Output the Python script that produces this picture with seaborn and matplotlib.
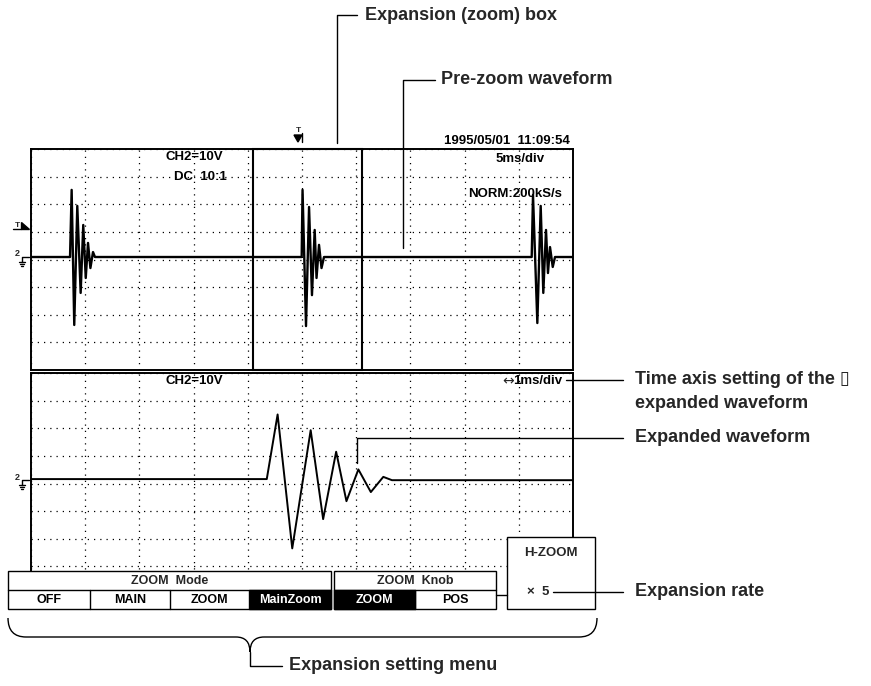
import numpy as np
import pandas as pd
import matplotlib
matplotlib.use('Agg')
import matplotlib.pyplot as plt
from matplotlib.patches import Rectangle, Polygon, PathPatch
from matplotlib.path import Path
import seaborn as sns

sns.set_style('white')
plt.rcParams['font.family'] = ['Liberation Sans', 'DejaVu Sans']

# main (pre-zoom) trace: 5 ms/div, 10 V/div
main_t = [0, 3.60, 3.75, 3.99, 4.27, 4.58, 4.82, 5.05, 5.26, 5.48, 5.72, 5.90,
          24.97, 25.05, 25.37, 25.65, 25.92, 26.17, 26.34, 26.57, 26.80, 27.03,
          46.19, 46.31, 46.71, 47.02, 47.26, 47.51, 47.69, 47.88, 48.13, 48.34, 50]
main_v = [0.9, 0.9, 25.2, -23.7, 19.4, -12.1, 12.5, -6.7, 6.0, -3.1, 2.7, 0.9,
          0.9, 25.2, -24.1, 19.0, -12.9, 10.7, -6.7, 5.3, -3.1, 0.9,
          0.9, 23.4, -23.0, 19.4, -12.1, 10.7, -4.9, 4.5, -2.7, 0.9, 0.9]

# zoom window and expanded trace: 1 ms/div
zoom_start = 20.5
zoom_span = 10
zoom_t = [20.5, 24.85, 25.05, 25.32, 25.66, 25.89, 26.13, 26.32, 26.54, 26.77, 27.00, 27.16, 30.5]
zoom_v = [1.6, 1.6, 25.0, -23.5, 19.3, -12.9, 11.5, -6.4, 5.1, -3.1, 2.4, 1.2, 1.2]

trig_level = 12.1

mode_buttons = ['OFF', 'MAIN', 'ZOOM', 'MainZoom']
knob_buttons = ['ZOOM', 'POS']
mode_sel = 'MainZoom'
knob_sel = 'ZOOM'
zoom_rate = '×  5'

W, H = 871, 686
fig = plt.figure(figsize=(W / 100, H / 100), dpi=100)
fig.patch.set_facecolor('white')


def panel(x0, y0, w, h):
    return fig.add_axes([x0 / W, 1 - (y0 + h) / H, w / W, h / H])


top = panel(31, 149, 542, 221)
low = panel(31, 373, 542, 221)

df_main = pd.DataFrame({'t': main_t, 'v': main_v})
df_zoom = pd.DataFrame({'t': zoom_t, 'v': zoom_v})

for ax, xmax, x0 in [(top, 50, 0), (low, zoom_span, zoom_start)]:
    ax.set_xlim(x0, x0 + xmax)
    ax.set_ylim(-40, 40)
    ax.set_xticks(np.linspace(x0, x0 + xmax, 11))
    ax.set_yticks(np.arange(-40, 41, 10))
    ax.grid(True, color='black', linestyle=(0, (1, 4)), linewidth=0.9)
    ax.tick_params(length=0, labelbottom=False, labelleft=False)
    for s in ax.spines.values():
        s.set_color('black')
        s.set_linewidth(1.4)

sns.lineplot(data=df_main, x='t', y='v', ax=top, color='black', linewidth=1.7,
             sort=False, estimator=None)
sns.lineplot(data=df_zoom, x='t', y='v', ax=low, color='black', linewidth=1.4,
             sort=False, estimator=None)
for ax in (top, low):
    ax.set_xlabel('')
    ax.set_ylabel('')

# expansion box on the main trace
top.add_patch(Rectangle((zoom_start, -40), zoom_span, 80, fill=False,
                        edgecolor='black', linewidth=1.5, clip_on=False, zorder=5))

# overlay in pixel units for labels, menu and leaders
ov = fig.add_axes([0, 0, 1, 1], zorder=10)
ov.set_xlim(0, W)
ov.set_ylim(H, 0)
ov.axis('off')
ov.patch.set_alpha(0)

scr = dict(fontsize=9.5, fontweight='bold', color='black', va='center')
ov.text(570, 141, '1995/05/01  11:09:54', ha='right', **scr)
ov.text(165, 157, 'CH2=10V', ha='left', **scr)
ov.text(174, 177, 'DC  10:1', ha='left', **scr)
ov.text(545, 159, '5ms/div', ha='right', **scr)
ov.text(562, 194, 'NORM:200kS/s', ha='right', **scr)
ov.text(165, 381, 'CH2=10V', ha='left', **scr)
ov.text(562, 381, '1ms/div', ha='right', **scr)
ov.text(514, 381, '↔', ha='right', fontsize=10, family='DejaVu Sans', va='center')

# trigger position mark
ov.text(298, 131, 'T', ha='center', va='center', fontsize=6, fontweight='bold')
ov.add_patch(Polygon([(294, 135), (302, 135), (298, 142)], closed=True, color='black'))
ov.plot([302, 302], [133, 142], color='black', lw=1)

# trigger level mark
trig_y = 259.5 - trig_level * 2.76
ov.text(17, trig_y - 1, 'T', ha='center', va='center', fontsize=6, fontweight='bold')
ov.plot([13, 21], [trig_y + 3, trig_y + 3], color='black', lw=1)
ov.add_patch(Polygon([(21, trig_y - 4), (21, trig_y + 3), (29, trig_y + 3)], closed=True, color='black'))


def ground(y):
    ov.text(17, y - 3, '2', ha='center', va='center', fontsize=6.5, fontweight='bold')
    ov.plot([29, 22, 22], [y, y, y + 5], color='black', lw=1)
    ov.plot([19, 25], [y + 5, y + 5], color='black', lw=1)
    ov.plot([20, 24], [y + 7, y + 7], color='black', lw=1)
    ov.plot([21, 23], [y + 9, y + 9], color='black', lw=1)


ground(257)
ground(480)

# menu
ov.add_patch(Rectangle((8, 571), 589, 40, facecolor='white', edgecolor='none', zorder=1))


def block(edges, header, labels, sel):
    x0, x1 = edges[0], edges[-1]
    ov.add_patch(Rectangle((x0, 571), x1 - x0, 38, facecolor='white',
                           edgecolor='black', lw=1, zorder=2))
    ov.plot([x0, x1], [590, 590], color='black', lw=1, zorder=3)
    ov.text((x0 + x1) / 2, 580.5, header, ha='center', va='center', fontsize=9,
            fontweight='bold', zorder=4)
    for i, lab in enumerate(labels):
        a, b = edges[i], edges[i + 1]
        if lab == sel:
            ov.add_patch(Rectangle((a, 590), b - a, 19, facecolor='black',
                                   edgecolor='black', lw=1, zorder=3))
        elif i > 0:
            ov.plot([a, a], [590, 609], color='black', lw=1, zorder=3)
        ov.text((a + b) / 2, 600, lab, ha='center', va='center', fontsize=9,
                fontweight='bold', color='white' if lab == sel else 'black', zorder=4)


block([8, 90, 170, 249, 331], 'ZOOM  Mode', mode_buttons, mode_sel)
block([334, 415, 496], 'ZOOM  Knob', knob_buttons, knob_sel)

ov.add_patch(Rectangle((507, 537), 88, 72, facecolor='white', edgecolor='black', lw=1, zorder=2))
ov.text(551, 553, 'H-ZOOM', ha='center', va='center', fontsize=9.5, fontweight='bold', zorder=4)
ov.text(538, 592, zoom_rate, ha='center', va='center', fontsize=9.5, fontweight='bold', zorder=4)
ov.plot([496, 507], [595, 595], color='black', lw=1)

# leaders and callouts
lab = dict(fontsize=13, fontweight='bold', ha='left', va='center')
lk = dict(color='black', lw=1)
ov.plot([337, 337, 357], [143, 15, 15], **lk)
ov.text(365, 15, 'Expansion (zoom) box', **lab)
ov.plot([403, 403, 435], [248, 80, 80], **lk)
ov.text(441, 80, 'Pre-zoom waveform', **lab)
ov.plot([566, 623], [380, 380], **lk)
ov.text(635, 380, 'Time axis setting of the \u25af', **lab)
ov.text(635, 403, 'expanded waveform', **lab)
ov.plot([357, 357, 623], [463, 438, 438], **lk)
ov.text(635, 438, 'Expanded waveform', **lab)
ov.plot([553, 623], [592, 592], **lk)
ov.text(635, 592, 'Expansion rate', **lab)

verts = [(8, 618), (8, 637), (26, 637), (236, 637), (250, 637), (250, 652),
         (250, 637), (264, 637), (579, 637), (597, 637), (597, 618)]
codes = [Path.MOVETO, Path.CURVE3, Path.CURVE3, Path.LINETO, Path.CURVE3, Path.CURVE3,
         Path.CURVE3, Path.CURVE3, Path.LINETO, Path.CURVE3, Path.CURVE3]
ov.add_patch(PathPatch(Path(verts, codes), fill=False, edgecolor='black', lw=1))
ov.plot([250, 250, 282], [652, 666, 666], **lk)
ov.text(289, 666, 'Expansion setting menu', **lab)

fig.savefig('out.png', dpi=100, facecolor='white')
